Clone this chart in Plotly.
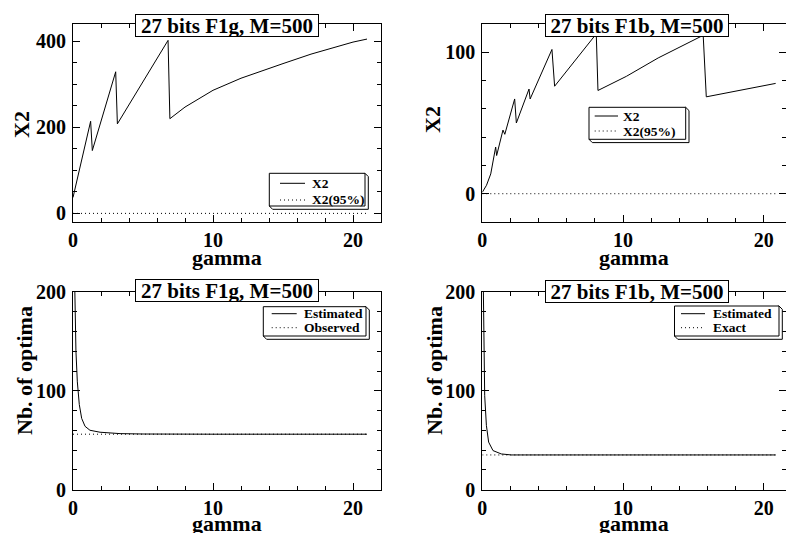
import plotly.graph_objects as go

W, H = 786, 533

# ---------------- data ----------------
gamma_f1g_x2 = [0, 1.26, 1.38, 3.05, 3.17, 6.79, 6.92, 8, 10, 12, 15, 17, 20, 21]
x2_f1g = [37, 214, 146, 329, 208, 402, 220, 247, 286, 314, 348, 370, 398, 405]
gamma_f1g_x2_95 = [0, 21]
x2_95_f1g = [0, 0]

gamma_f1b_x2 = [0, 0.3, 0.6, 0.95, 1.02, 1.47, 1.6, 2.3, 2.42, 3.32, 3.4, 4.95, 5.14,
                8.1, 8.22, 10.24, 12.5, 15.7, 15.92, 20.85]
x2_f1b = [1, 6, 14, 33, 27, 45, 42, 67, 50, 74, 67, 102, 76,
          113, 73, 83, 96, 112, 68.5, 78]
gamma_f1b_x2_95 = [0, 20.85]
x2_95_f1b = [0, 0]

gamma_f1g_opt = [0.08, 0.12, 0.21, 0.31, 0.45, 0.62, 0.86, 1.21, 1.93, 3.36, 5, 10, 15, 21]
est_f1g = [240, 198, 140, 109, 86, 72, 64, 60, 58, 56.6, 56.2, 56, 56, 56]
gamma_f1g_obs = [0, 21]
obs_f1g = [56, 56]

gamma_f1b_opt = [0.05, 0.1, 0.17, 0.29, 0.45, 0.76, 1.35, 2.06, 4, 10, 20.85]
est_f1b = [230, 150, 95, 65, 48, 39.4, 36, 35, 35, 35, 35]
gamma_f1b_exact = [0, 20.85]
exact_f1b = [35, 35]

panel_titles = ["27 bits F1g, M=500", "27 bits F1b, M=500",
                "27 bits F1g, M=500", "27 bits F1b, M=500"]
y_titles = ["X2", "X2", "Nb. of optima", "Nb. of optima"]
x_title = "gamma"
legend_labels = [["X2", "X2(95%)"], ["X2", "X2(95%)"],
                 ["Estimated", "Observed"], ["Estimated", "Exact"]]

# ---------------- helpers ----------------
FONT = "Liberation Serif"
DOT = "1px,3px"


def px(x):
    return x / W


def py(y):
    return 1 - y / H


fig = go.Figure()

solid = dict(color="black", width=1)
dotted = dict(color="black", width=1, dash=DOT)

fig.add_trace(go.Scatter(x=gamma_f1g_x2, y=x2_f1g, mode="lines", line=solid, xaxis="x", yaxis="y"))
fig.add_trace(go.Scatter(x=gamma_f1g_x2_95, y=x2_95_f1g, mode="lines", line=dotted, xaxis="x", yaxis="y"))
fig.add_trace(go.Scatter(x=gamma_f1b_x2, y=x2_f1b, mode="lines", line=solid, xaxis="x2", yaxis="y2"))
fig.add_trace(go.Scatter(x=gamma_f1b_x2_95, y=x2_95_f1b, mode="lines", line=dotted, xaxis="x2", yaxis="y2"))
fig.add_trace(go.Scatter(x=gamma_f1g_opt, y=est_f1g, mode="lines", line=solid, xaxis="x3", yaxis="y3"))
fig.add_trace(go.Scatter(x=gamma_f1g_obs, y=obs_f1g, mode="lines", line=dotted, xaxis="x3", yaxis="y3"))
fig.add_trace(go.Scatter(x=gamma_f1b_opt, y=est_f1b, mode="lines", line=solid, xaxis="x4", yaxis="y4"))
fig.add_trace(go.Scatter(x=gamma_f1b_exact, y=exact_f1b, mode="lines", line=dotted, xaxis="x4", yaxis="y4"))

tickfont = dict(family=FONT, size=20, color="black", weight="bold")


def axis(domain, rng, dtick, mdtick, anchor, standoff=0):
    return dict(domain=domain, range=rng, anchor=anchor, dtick=dtick, tick0=0,
                automargin=False, ticklabelstandoff=standoff,
                showline=True, linecolor="black", linewidth=1, mirror="ticks",
                ticks="inside", ticklen=7, tickwidth=1, tickcolor="black",
                minor=dict(ticks="inside", ticklen=4, dtick=mdtick, tick0=0,
                           tickcolor="black", tickwidth=1, showgrid=False),
                showgrid=False, zeroline=False, tickfont=tickfont, fixedrange=True)


L = (73, 381)
R = (482.3, 786)
T = (24, 222)
B = (292, 489.5)
xr2 = (786 - 482.3) / 14.07

fig.update_layout(
    template="none",
    width=W, height=H, margin=dict(l=0, r=0, t=0, b=0, pad=0),
    paper_bgcolor="white", plot_bgcolor="white", showlegend=False,
    xaxis=axis([px(L[0]), px(L[1])], [0, 22], 10, 2, "y"),
    yaxis=axis([py(T[1]), py(T[0])], [-20, 440], 200, 50, "x", 2),
    xaxis2=axis([px(R[0]), 1.0], [0, xr2], 10, 2, "y2"),
    yaxis2=axis([py(T[1]), py(T[0])], [-20, 120], 100, 20, "x2", 2),
    xaxis3=axis([px(L[0]), px(L[1])], [0, 22], 10, 2, "y3"),
    yaxis3=axis([py(B[1]), py(B[0])], [0, 200], 100, 20, "x3", 2),
    xaxis4=axis([px(R[0]), 1.0], [0, xr2], 10, 2, "y4"),
    yaxis4=axis([py(B[1]), py(B[0])], [0, 200], 100, 20, "x4", 2),
)

annotations = []
shapes = []

# panel titles (boxed)
title_pos = [(227, 25.5), (636.7, 25.5), (227, 290), (636.7, 291.5)]
for (cx, cy), t in zip(title_pos, panel_titles):
    annotations.append(dict(text=t, x=px(cx), y=py(cy), xref="paper", yref="paper",
                            xanchor="center", yanchor="middle", showarrow=False,
                            font=dict(family=FONT, size=21, color="black", weight="bold"),
                            bgcolor="white", bordercolor="black", borderwidth=1,
                            borderpad=0, width=182, height=21))

# axis titles
titlefont = dict(family=FONT, size=22, color="black", weight="bold")
for cx, cy in [(227, 257), (634, 257), (227, 523.5), (634, 523.5)]:
    annotations.append(dict(text=x_title, x=px(cx), y=py(cy), xref="paper", yref="paper",
                            xanchor="center", yanchor="middle", showarrow=False, font=titlefont))
for (cx, cy), t in zip([(22, 125), (432, 120), (24, 371), (434, 371)], y_titles):
    annotations.append(dict(text=t, x=px(cx), y=py(cy), xref="paper", yref="paper",
                            xanchor="center", yanchor="middle", showarrow=False,
                            textangle=-90, font=titlefont))

# legend boxes
legfont = dict(family=FONT, size=13.5, color="black", weight="bold")
legends = [
    # x0, y0, x1, y1, sample x0, sample x1, text x, row1 y, row2 y
    (269.3, 173.3, 365, 206, 280, 305, 310, 183.3, 200),
    (589, 107.3, 685.7, 139.3, 594.7, 618, 621.3, 116, 131),
    (263.3, 306.7, 366, 336, 271.7, 296.7, 302, 313.7, 327.7),
    (674.5, 306, 779, 336, 681, 705, 711, 313.7, 327.7),
]
d = 3.3
for (x0, y0, x1, y1, s0, s1, tx, r1, r2), labs in zip(legends, legend_labels):
    shapes.append(dict(type="path", xref="paper", yref="paper",
                       path=f"M {px(x1)},{py(y0)} L {px(x1 + d)},{py(y0 + d)} L {px(x1 + d)},{py(y1 + d)} "
                            f"L {px(x0 + d)},{py(y1 + d)} L {px(x0)},{py(y1)} Z",
                       line=dict(color="black", width=1), fillcolor="white"))
    shapes.append(dict(type="rect", xref="paper", yref="paper",
                       x0=px(x0), x1=px(x1), y0=py(y1), y1=py(y0),
                       line=dict(color="black", width=1), fillcolor="white"))
    shapes.append(dict(type="line", xref="paper", yref="paper", x0=px(s0), x1=px(s1),
                       y0=py(r1), y1=py(r1), line=dict(color="black", width=1)))
    shapes.append(dict(type="line", xref="paper", yref="paper", x0=px(s0), x1=px(s1),
                       y0=py(r2), y1=py(r2), line=dict(color="black", width=1, dash=DOT)))
    for ry, lab in zip((r1, r2), labs):
        annotations.append(dict(text=lab, x=px(tx), y=py(ry), xref="paper", yref="paper",
                                xanchor="left", yanchor="middle", showarrow=False, font=legfont))

fig.update_layout(annotations=annotations, shapes=shapes)
fig.write_html("out.html", config={"displayModeBar": False},
               post_script="document.body.style.margin='0';document.body.style.overflow='hidden';")
